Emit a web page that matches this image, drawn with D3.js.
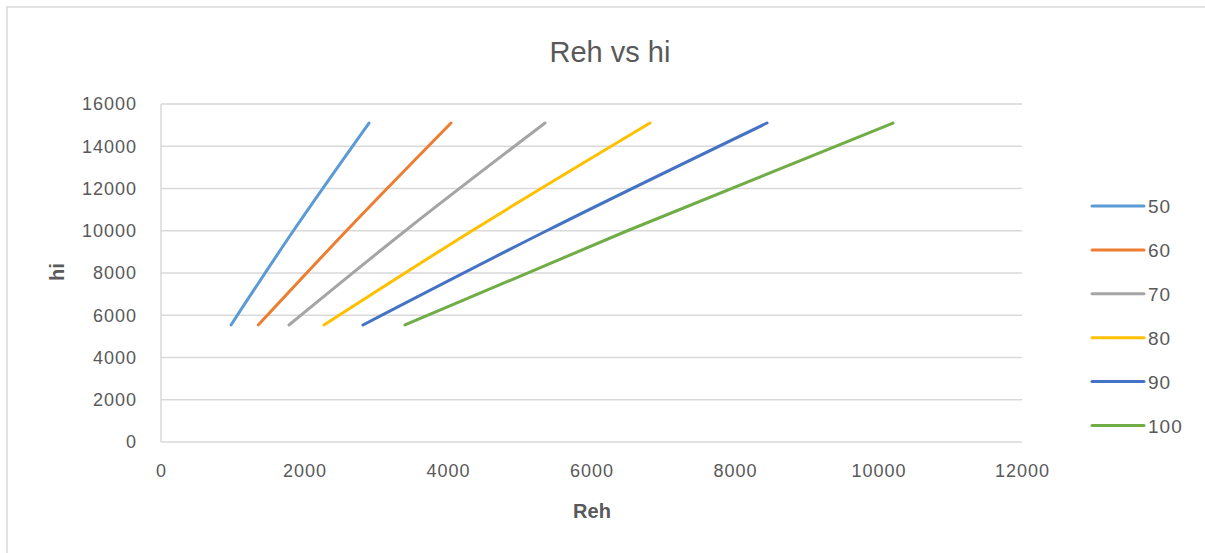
<!DOCTYPE html>
<html>
<head>
<meta charset="utf-8">
<script src="https://cdn.jsdelivr.net/npm/d3@7"></script>
<style>
  html, body { margin: 0; padding: 0; background: #fff; }
  svg { display: block; font-family: "Liberation Sans", Arial, sans-serif; }
</style>
</head>
<body>
<svg id="chart" width="1205" height="553"></svg>
<script>
// Series names (temperature cases)
const seriesNames = ["50", "60", "70", "80", "90", "100"];
const seriesColors = ["#5B9BD5", "#ED7D31", "#A5A5A5", "#FFC000", "#4472C4", "#70AD47"];

// hi values shared by all series
const hiValues = [5540, 10000, 15100];

// Reh values for each series at the hi values above
const reh50  = [976, 1845, 2899];
const reh60  = [1356, 2585, 4042];
const reh70  = [1784, 3405, 5352];
const reh80  = [2272, 4335, 6815];
const reh90  = [2815, 5375, 8446];
const reh100 = [3400, 6500, 10202];
const rehSeries = [reh50, reh60, reh70, reh80, reh90, reh100];

// Axis ticks
const xTicks = [0, 2000, 4000, 6000, 8000, 10000, 12000];
const yTicks = [0, 2000, 4000, 6000, 8000, 10000, 12000, 14000, 16000];

const svg = d3.select("#chart");
const textColor = "#595959";
const gridColor = "#d9d9d9";

// Outer chart frame
svg.append("rect")
  .attr("x", 7).attr("y", 7)
  .attr("width", 1210).attr("height", 560)
  .attr("fill", "#fff")
  .attr("stroke", gridColor).attr("stroke-width", 1.5);

const x = d3.scaleLinear().domain([0, 12000]).range([161, 1022]);
const y = d3.scaleLinear().domain([0, 16000]).range([442, 104]);

// Horizontal gridlines
svg.append("g")
  .selectAll("line")
  .data(yTicks)
  .join("line")
  .attr("x1", x(0)).attr("x2", x(12000))
  .attr("y1", d => y(d)).attr("y2", d => y(d))
  .attr("stroke", gridColor).attr("stroke-width", 1.5);

// Y axis line
svg.append("line")
  .attr("x1", x(0)).attr("x2", x(0))
  .attr("y1", y(0)).attr("y2", y(16000))
  .attr("stroke", gridColor).attr("stroke-width", 1.5);

// Y axis tick labels
const yAxis = d3.axisLeft(y).tickValues(yTicks).tickSize(0).tickPadding(24).tickFormat(d3.format("d"));
const gy = svg.append("g").attr("transform", `translate(${x(0)},0)`).call(yAxis);
gy.select(".domain").remove();
gy.selectAll("text")
  .attr("fill", textColor)
  .style("font-size", "18px")
  .style("letter-spacing", "1px");

// X axis tick labels
const xAxis = d3.axisBottom(x).tickValues(xTicks).tickSize(0).tickPadding(22).tickFormat(d3.format("d"));
const gx = svg.append("g").attr("transform", `translate(0,${y(0)})`).call(xAxis);
gx.select(".domain").remove();
gx.selectAll("text")
  .attr("fill", textColor)
  .style("font-size", "18px")
  .style("letter-spacing", "1px");

// Series lines
const line = d3.line()
  .x(d => x(d[0]))
  .y(d => y(d[1]))
  .curve(d3.curveMonotoneY);

svg.append("g")
  .selectAll("path")
  .data(rehSeries)
  .join("path")
  .attr("d", r => line(r.map((v, i) => [v, hiValues[i]])))
  .attr("fill", "none")
  .attr("stroke", (d, i) => seriesColors[i])
  .attr("stroke-width", 3)
  .attr("stroke-linecap", "round");

// Title
svg.append("text")
  .attr("x", 610).attr("y", 62)
  .attr("text-anchor", "middle")
  .attr("fill", textColor)
  .style("font-size", "29px")
  .text("Reh vs hi");

// Axis titles
svg.append("text")
  .attr("x", 592).attr("y", 518)
  .attr("text-anchor", "middle")
  .attr("fill", textColor)
  .style("font-size", "20px")
  .style("font-weight", "bold")
  .text("Reh");

svg.append("text")
  .attr("transform", "translate(64,272) rotate(-90)")
  .attr("text-anchor", "middle")
  .attr("fill", textColor)
  .style("font-size", "20px")
  .style("font-weight", "bold")
  .text("hi");

// Legend
const legend = svg.append("g")
  .selectAll("g")
  .data(seriesNames)
  .join("g")
  .attr("transform", (d, i) => `translate(1092,${206 + i * 43.9})`);

legend.append("line")
  .attr("x1", 0).attr("x2", 52)
  .attr("stroke", (d, i) => seriesColors[i])
  .attr("stroke-width", 3)
  .attr("stroke-linecap", "round");

legend.append("text")
  .attr("x", 56).attr("y", 7)
  .attr("fill", textColor)
  .style("font-size", "19px")
  .style("letter-spacing", "1px")
  .text(d => d);
</script>
</body>
</html>
